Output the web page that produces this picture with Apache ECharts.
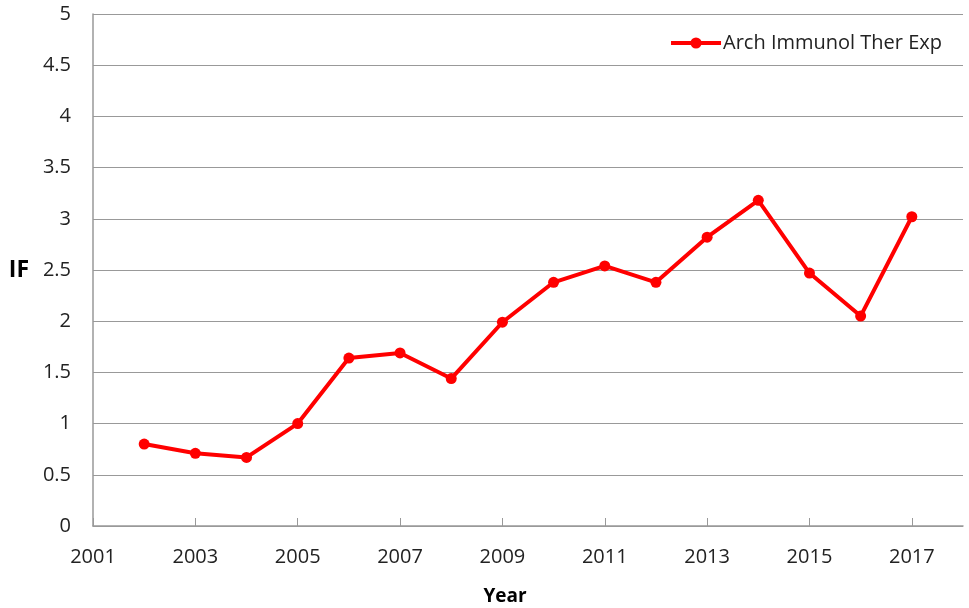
<!DOCTYPE html>
<html><head><meta charset="utf-8">
<script src="https://cdn.jsdelivr.net/npm/echarts@6/dist/echarts.min.js"></script>
<style>html,body{margin:0;padding:0;background:#fff}#c{width:969px;height:608px}</style>
</head><body><div id="c"></div>
<script>
const years = [2002,2003,2004,2005,2006,2007,2008,2009,2010,2011,2012,2013,2014,2015,2016,2017];
const ifValues = [0.80,0.71,0.67,1.00,1.64,1.69,1.44,1.99,2.38,2.54,2.38,2.82,3.18,2.47,2.05,3.02];
const seriesName = 'Arch Immunol Ther Exp';
const chart = echarts.init(document.getElementById('c'));
const font = '"Open Sans", "Noto Sans", sans-serif';
chart.setOption({
  animation:false,
  backgroundColor:'#fff',
  grid:{left:93,right:6,top:14,bottom:82,outerBoundsMode:'none',containLabel:false},
  legend:{
    right:22, top:28, itemWidth:50, itemHeight:14, itemGap:4,
    lineStyle:{width:4},
    textStyle:{fontFamily:font,fontSize:20,color:'#222',padding:[0,0,0,-3]},
    data:[{name:seriesName}]
  },
  xAxis:{
    type:'value', min:2001, max:2018, interval:2,
    name:'Year', nameLocation:'middle', nameGap:61,
    nameTextStyle:{fontFamily:font,fontSize:19,fontWeight:'bold',color:'#000',padding:[0,46,0,0]},
    axisLine:{lineStyle:{color:'#999',width:1.5}},
    axisTick:{show:true,inside:true,length:8,lineStyle:{color:'#999'}},
    axisLabel:{fontFamily:font,fontSize:20,color:'#222',margin:21,showMaxLabel:false,
      formatter:v=>v===2018?'':String(v)},
    splitLine:{show:false}
  },
  yAxis:{
    type:'value', min:0, max:5, interval:0.5,
    name:'IF', nameLocation:'middle', nameGap:64, nameRotate:0,
    nameTextStyle:{fontFamily:font,fontSize:23,fontWeight:'bold',color:'#000'},
    axisLine:{show:true,lineStyle:{color:'#999',width:1.5}},
    axisTick:{show:false},
    axisLabel:{fontFamily:font,fontSize:20,color:'#222',margin:22},
    splitLine:{lineStyle:{color:'#999',width:1.2}}
  },
  series:[{
    name:seriesName, type:'line',
    data:years.map((y,i)=>[y,ifValues[i]]),
    symbol:'circle', symbolSize:11,
    itemStyle:{color:'#ff0000'},
    lineStyle:{color:'#ff0000',width:4}
  }]
});
</script></body></html>
